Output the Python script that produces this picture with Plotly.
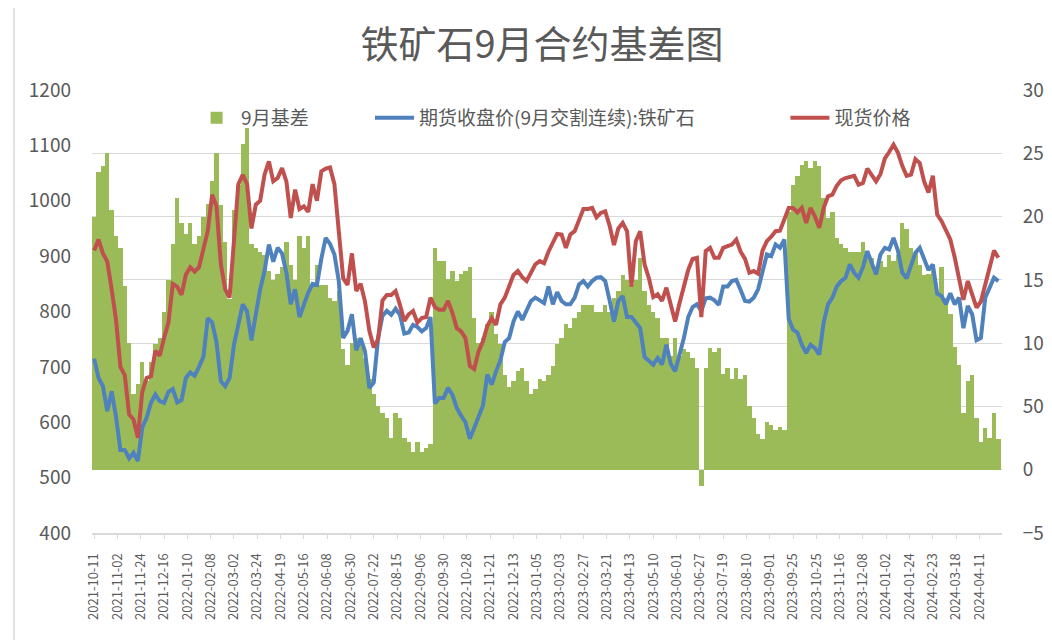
import plotly.graph_objects as go

# Trading-day index of each sample (every 3rd trading day from 2021-10-11)
day_index = list(range(0, 622, 3))

tick_labels = [
    "2021-10-11", "2021-11-02", "2021-11-24", "2021-12-16", "2022-01-10", "2022-02-08",
    "2022-03-02", "2022-03-24", "2022-04-19", "2022-05-16", "2022-06-08", "2022-06-30",
    "2022-07-22", "2022-08-15", "2022-09-06", "2022-09-30", "2022-10-28", "2022-11-21",
    "2022-12-13", "2023-01-05", "2023-02-03", "2023-02-27", "2023-03-21", "2023-04-13",
    "2023-05-10", "2023-06-01", "2023-06-27", "2023-07-19", "2023-08-10", "2023-09-01",
    "2023-09-25", "2023-10-25", "2023-11-16", "2023-12-08", "2024-01-02", "2024-01-24",
    "2024-02-23", "2024-03-18", "2024-04-11",
]
tick_step = 16  # trading days between labelled ticks

spot_price = [
    910, 930, 905, 890, 840, 785, 700, 685, 614, 605, 572, 655, 680, 683, 729, 720, 752, 780, 850, 845, 830, 867, 880,
    872, 880, 912, 945, 1011, 990, 885, 840, 825, 930, 1030, 1047, 1030, 950, 993, 1000, 1047, 1071, 1035, 1041, 1059, 1035, 969,
    1020, 985, 990, 980, 1030, 1000, 1053, 1058, 1060, 1030, 945, 860, 848, 905, 837, 850, 818, 765, 735, 750, 820, 830, 830, 837,
    812, 783, 795, 801, 780, 788, 790, 825, 808, 803, 803, 819, 798, 770, 764, 752, 702, 696, 728, 746, 774, 788, 776,
    813, 825, 845, 866, 873, 862, 855, 870, 885, 891, 887, 908, 925, 940, 939, 915, 939, 945, 965, 985, 985, 987, 970,
    978, 981, 955, 920, 950, 960, 945, 845, 927, 945, 885, 860, 826, 831, 819, 843, 813, 782, 815, 843, 875, 895, 897,
    790, 909, 915, 897, 897, 915, 918, 921, 930, 908, 895, 870, 873, 868, 910, 927, 935, 945, 946, 969, 987, 987, 979, 987,
    960, 987, 972, 951, 987, 1008, 1011, 1027, 1037, 1041, 1043, 1045, 1029, 1032, 1058, 1047, 1035, 1048, 1076, 1088, 1101, 1087, 1063,
    1045, 1047, 1075, 1068, 1035, 1015, 1045, 975, 963, 945, 930, 898, 855, 821, 855, 833, 807, 818, 848, 879, 910, 897,
]

futures_close = [
    715, 680, 665, 620, 656, 610, 550, 550, 535, 545, 530, 590, 608, 635, 650, 638, 635, 655, 660, 636, 640, 680, 690,
    684, 700, 718, 788, 780, 745, 674, 665, 680, 740, 780, 813, 800, 748, 795, 840, 873, 921, 890, 915, 905, 870, 813,
    840, 790, 812, 834, 850, 848, 895, 933, 922, 903, 855, 752, 765, 795, 730, 752, 728, 662, 672, 752, 792, 801, 794, 805,
    794, 760, 762, 776, 772, 764, 770, 790, 634, 644, 644, 662, 650, 626, 612, 600, 570, 590, 612, 630, 686, 668, 692,
    712, 745, 752, 782, 800, 785, 801, 819, 825, 820, 815, 845, 813, 835, 819, 813, 813, 825, 849, 855, 845, 855, 861,
    862, 855, 820, 782, 819, 828, 790, 790, 780, 770, 718, 710, 704, 716, 704, 740, 705, 692, 720, 752, 790, 808, 813,
    801, 824, 825, 820, 812, 845, 845, 855, 857, 839, 819, 818, 825, 840, 870, 903, 900, 921, 915, 930, 787, 767, 762, 740,
    725, 740, 734, 722, 780, 813, 825, 845, 855, 861, 885, 870, 861, 880, 909, 887, 867, 903, 915, 912, 933, 910, 870,
    860, 885, 906, 915, 897, 875, 885, 832, 828, 813, 833, 813, 825, 770, 810, 795, 748, 752, 825, 845, 861, 855,
]

basis_sep = [
    200, 235, 240, 250, 205, 185, 175, 145, 100, 60, 68, 85, 70, 85, 99, 104, 125, 150, 178, 215, 195, 186, 195,
    178, 185, 200, 210, 228, 250, 209, 180, 135, 205, 225, 257, 270, 178, 175, 172, 170, 157, 150, 155, 160, 180, 162,
    150, 185, 175, 185, 146, 162, 146, 146, 136, 133, 141, 95, 83, 100, 104, 104, 88, 72, 60, 50, 45, 41, 25, 45,
    41, 25, 22, 14, 22, 14, 17, 20, 175, 165, 165, 151, 157, 149, 155, 157, 160, 120, 100, 104, 115, 125, 107,
    99, 75, 65, 70, 78, 80, 70, 60, 64, 72, 70, 75, 82, 99, 104, 115, 112, 120, 125, 130, 130, 130, 125,
    125, 130, 125, 136, 141, 154, 150, 146, 150, 167, 141, 130, 125, 120, 104, 104, 90, 104, 90, 95, 93, 88, 80,
    -13, 80, 96, 93, 96, 76, 80, 72, 80, 72, 75, 50, 41, 28, 24, 38, 35, 31, 34, 31, 204, 225, 232, 241,
    244, 238, 244, 240, 215, 199, 204, 183, 178, 175, 172, 172, 172, 180, 167, 167, 160, 165, 160, 170, 165, 170, 195,
    190, 175, 171, 162, 154, 155, 160, 140, 160, 136, 123, 97, 83, 45, 70, 75, 41, 22, 33, 25, 45, 24,
]

assert len(spot_price) == len(futures_close) == len(basis_sep) == len(day_index)

FONT = "Noto Sans CJK SC"
TXT = "#595959"
GRID = "#D9D9D9"

fig = go.Figure()
fig.add_trace(go.Bar(
    x=day_index, y=basis_sep, name="9月基差", width=3,
    marker=dict(color="#9BBB59", line=dict(width=0)),
    yaxis="y", legend="legend", showlegend=True,
))
fig.add_trace(go.Scatter(
    x=day_index, y=futures_close, name="期货收盘价(9月交割连续):铁矿石", mode="lines",
    line=dict(color="#4F81BD", width=4), yaxis="y2", legend="legend2", showlegend=True,
))
fig.add_trace(go.Scatter(
    x=day_index, y=spot_price, name="现货价格", mode="lines",
    line=dict(color="#C0504D", width=4), yaxis="y2", legend="legend3", showlegend=True,
))

legend_common = dict(orientation="h", yanchor="middle", xanchor="left", y=0.937, itemwidth=39,
                     font=dict(family=FONT, size=19, color=TXT), bgcolor="rgba(0,0,0,0)")

fig.update_layout(
    width=1052, height=640,
    margin=dict(l=84, r=58, t=82, b=115, autoexpand=False),
    paper_bgcolor="white", plot_bgcolor="white",
    font=dict(family=FONT, color=TXT),
    showlegend=True,
    title=dict(text="铁矿石9月合约基差图", x=0.5076, xanchor="center", y=0.942, yanchor="middle",
               font=dict(family=FONT, size=38, color=TXT)),
    bargap=0,
    legend=dict(x=0.11, **legend_common),
    legend2=dict(x=0.3055, **legend_common),
    legend3=dict(x=0.762, **legend_common),
    xaxis=dict(
        range=[-1.5, 623.5], tickmode="array", automargin=False,
        tickvals=[i * tick_step for i in range(len(tick_labels))], ticktext=tick_labels,
        tickangle=-90, tickfont=dict(family=FONT, size=13, color=TXT),
        showgrid=False, zeroline=False, showline=True, linecolor=GRID, linewidth=2,
        ticks="outside", ticklen=4, tickcolor=GRID, ticklabelstandoff=9,
    ),
    yaxis=dict(
        side="right", range=[-50, 300], dtick=50, tick0=0, automargin=False,
        showgrid=True, gridcolor=GRID, gridwidth=1, zeroline=False,
        ticks="outside", ticklen=16, tickcolor="rgba(0,0,0,0)",
        tickfont=dict(family=FONT, size=19, color=TXT),
    ),
    yaxis2=dict(
        side="left", overlaying="y", range=[400, 1200], dtick=100, automargin=False,
        showgrid=False, zeroline=False,
        tickfont=dict(family=FONT, size=19, color=TXT), ticklabelstandoff=20,
    ),
    shapes=[dict(type="line", xref="paper", yref="paper", x0=-0.0857, x1=-0.0857,
                 y0=-0.25, y1=1.21, line=dict(color=GRID, width=1.5))],
)

fig.write_html("out.html")
